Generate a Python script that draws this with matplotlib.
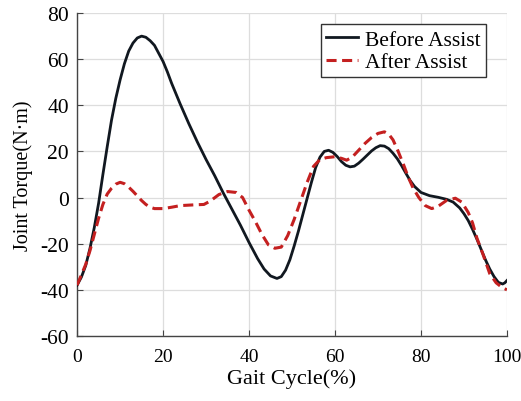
import matplotlib
matplotlib.use("Agg")
import matplotlib.pyplot as plt

# gait cycle (%) and joint torque (N*m)
before_x = [0, 1, 2, 3, 4, 5, 6, 7, 8, 9, 10, 11, 12, 13, 14, 15, 16, 17, 18, 19, 20,
            21, 22, 23, 24, 26, 28, 30, 32, 34, 36, 38, 40, 42, 43.5, 45, 46.5, 47.5,
            48.5, 49.5, 50.5, 51.5, 52.5, 53.5, 54.5, 55.5, 56.5, 57.5, 58.5, 59.5,
            60.5, 61.5, 62.5, 63.5, 64.5, 65.5, 66.5, 67.5, 68.5, 69.5, 70.5, 71.5,
            72.5, 73.5, 74.5, 75.5, 76.5, 77.5, 78.5, 80, 82, 84, 86, 87.5, 89, 90,
            91, 92, 93, 94, 95, 96, 97, 98, 99, 99.5, 100]
before_y = [-38, -34.5, -29.5, -22, -13, -2.5, 10, 22, 33.5, 43, 51, 58, 63.5, 67, 69.2,
            70, 69.5, 68, 66, 62.5, 59, 54.5, 49.5, 45, 40.5, 32, 24, 16.5, 9.5, 2, -5,
            -12, -19.5, -26.5, -31, -34, -35.1, -34.3, -31.5, -27, -21, -14.5, -7.5,
            -0.5, 6.5, 13, 17.5, 20, 20.5, 19.6, 17.8, 15.6, 14, 13.3, 13.6, 14.9, 16.6,
            18.4, 20.2, 21.6, 22.5, 22.3, 21.2, 19.2, 16.8, 13.8, 10.5, 7.3, 4.8, 2.2,
            0.8, 0.1, -0.8, -2, -4.5, -7, -10, -13.8, -18, -22.5, -27, -31, -34.3,
            -36.8, -37.5, -37, -36]

after_x = [0, 1, 2, 3, 4, 5, 6, 7, 8, 9, 10, 11, 12, 13, 14, 15, 16, 17, 18, 20, 22,
           24, 27, 29.5, 31, 33, 35, 37, 38.5, 40, 41.5, 43, 44.5, 46, 47.5, 49, 50.5,
           52, 53.5, 55, 56.5, 58, 60, 61.5, 62.7, 64, 65.5, 67, 68.5, 70, 71.5, 72.5,
           73.5, 74.7, 76, 77, 78.2, 79.5, 81, 82.5, 84, 86, 88, 89.5, 91, 92, 93,
           94.5, 96, 97.5, 99, 100]
after_y = [-38, -33.5, -29, -23, -16, -9, -3, 1.5, 4, 5.8, 6.6, 6, 4.5, 2.7, 0.7, -1.3,
           -3, -4.2, -4.8, -4.8, -4.2, -3.5, -3.2, -3, -1.5, 1.3, 2.6, 2.2, 0, -5.5,
           -10.5, -16, -20.5, -22, -21.5, -16.5, -9.5, -1.5, 6.5, 13.5, 16.5, 17.3,
           17.7, 17, 16.2, 17.5, 20.5, 23.5, 26, 27.8, 28.5, 27.5, 25, 20, 14, 9, 4, 0,
           -3.5, -4.8, -3.8, -1.2, -0.3, -2, -6.5, -11, -17.5, -25, -33, -37, -39.2, -40]

xticks = [0, 20, 40, 60, 80, 100]
yticks = [-60, -40, -20, 0, 20, 40, 60, 80]

plt.rcParams['font.family'] = ['Liberation Serif', 'DejaVu Serif']
plt.rcParams['axes.unicode_minus'] = False

fig = plt.figure(figsize=(5.21, 4.02), dpi=100)
ax = fig.add_axes([0.148, 0.162, 0.825, 0.803])

ax.plot(before_x, before_y, color='#111820', lw=2.0, label='Before Assist', zorder=3)
ax.plot(after_x, after_y, color='#c42020', lw=2.2, ls=(0, (3.3, 1.8)),
        label='After Assist', zorder=4)

ax.set_xlim(0, 100)
ax.set_ylim(-60, 80)
ax.set_xticks(xticks)
ax.set_yticks(yticks)
ax.grid(True, color='#dddddd', lw=0.9)
ax.set_axisbelow(True)

for s in ['top', 'right']:
    ax.spines[s].set_visible(False)
for s in ['left', 'bottom']:
    ax.spines[s].set_color('#444444')
    ax.spines[s].set_linewidth(1.0)

ax.tick_params(direction='in', length=4, color='#444444', labelsize=15.5)
ax.tick_params(axis='x', pad=9, labelsize=14)
ax.tick_params(axis='y', pad=6)
ax.set_xlabel('Gait Cycle(%)', fontsize=16, labelpad=2)
ax.set_ylabel('Joint Torque(N·m)', fontsize=14.5, labelpad=5)

leg = ax.legend(loc='upper right', bbox_to_anchor=(0.951, 0.965), fontsize=15.5,
                fancybox=False, framealpha=1, edgecolor='#333333',
                handlelength=1.5, handletextpad=0.3, borderpad=0.25, labelspacing=0.1,
                borderaxespad=0)
leg.get_frame().set_linewidth(1.0)

fig.savefig('out.png', dpi=100)
